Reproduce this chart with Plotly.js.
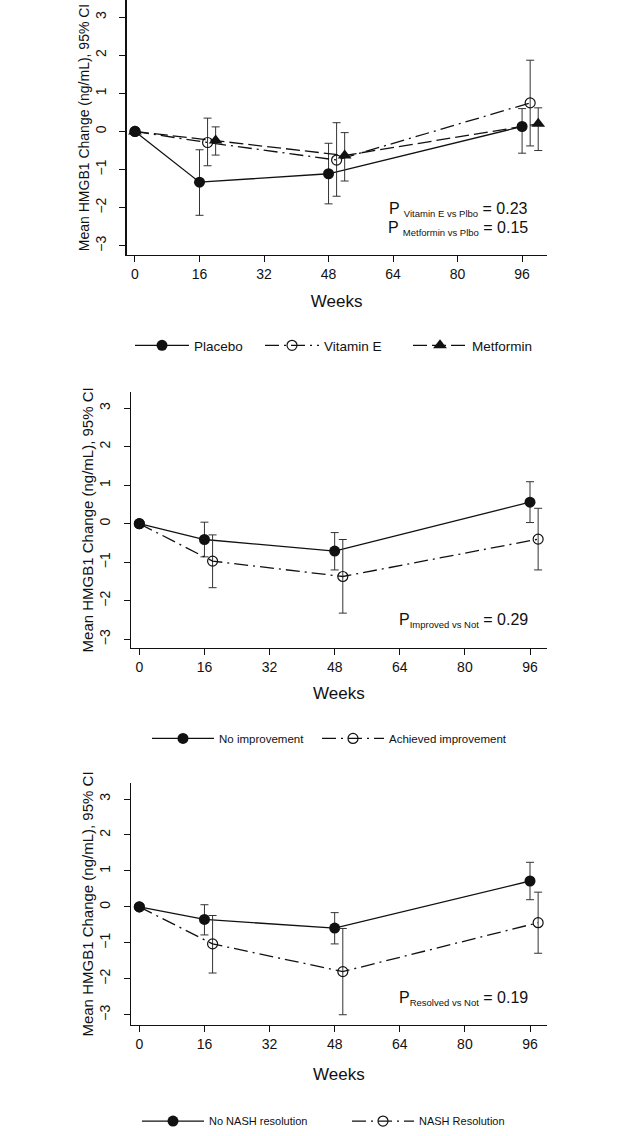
<!DOCTYPE html>
<html>
<head>
<meta charset="utf-8">
<script src="https://cdn.plot.ly/plotly-3.0.1.min.js"></script>
<style>
  html, body { margin: 0; padding: 0; background: #fff; }
  #chart { width: 625px; height: 1136px; }
</style>
</head>
<body>
<div id="chart"></div>
<script>
// ---------- data ----------
const xTickVals = [0, 16, 32, 48, 64, 80, 96];
const yTickVals = [-3, -2, -1, 0, 1, 2, 3];

// Panel 1: treatment groups
const weeksPlacebo   = [0, 16, 48, 96];
const placeboMean    = [0, -1.33, -1.11, 0.13];
const placeboLower   = [null, -2.20, -1.90, -0.57];
const placeboUpper   = [null, -0.48, -0.31, 0.60];

const weeksVitE      = [0, 18, 50, 98];
const vitEMean       = [0, -0.29, -0.75, 0.75];
const vitELower      = [null, -0.90, -1.70, -0.38];
const vitEUpper      = [null, 0.35, 0.23, 1.87];

const weeksMetformin = [0, 20, 52, 100];
const metforminMean  = [0, -0.24, -0.63, 0.20];
const metforminLower = [null, -0.62, -1.30, -0.50];
const metforminUpper = [null, 0.12, -0.03, 0.62];

// Panel 2: histologic improvement
const weeksNoImp     = [0, 16, 48, 96];
const noImpMean      = [0, -0.41, -0.71, 0.56];
const noImpLower     = [null, -0.86, -1.20, 0.03];
const noImpUpper     = [null, 0.04, -0.23, 1.09];

const weeksImp       = [0, 18, 50, 98];
const impMean        = [0, -0.97, -1.37, -0.40];
const impLower       = [null, -1.66, -2.32, -1.20];
const impUpper       = [null, -0.29, -0.41, 0.40];

// Panel 3: NASH resolution
const weeksNoRes     = [0, 16, 48, 96];
const noResMean      = [0, -0.35, -0.59, 0.72];
const noResLower     = [null, -0.78, -1.03, 0.20];
const noResUpper     = [null, 0.06, -0.16, 1.24];

const weeksRes       = [0, 18, 50, 98];
const resMean        = [0, -1.03, -1.80, -0.44];
const resLower       = [null, -1.84, -3.00, -1.29];
const resUpper       = [null, -0.24, -0.60, 0.41];

// ---------- styling ----------
const FONT = 'Liberation Sans, Arial, Helvetica, sans-serif';
const INK = '#111111';

function errY(mean, lower, upper) {
  return {
    type: 'data', symmetric: false,
    array: mean.map((m, i) => upper[i] == null ? NaN : upper[i] - m),
    arrayminus: mean.map((m, i) => lower[i] == null ? NaN : m - lower[i]),
    color: '#333333', thickness: 1, width: 4
  };
}

function series(name, xs, mean, lower, upper, ax, legend, kind, lw) {
  const styles = {
    filled:   { dash: 'solid', marker: { symbol: 'circle', size: 11, color: INK } },
    open:     { dash: '14px,5px,2px,5px', marker: { symbol: 'circle-open', size: 10, color: INK, line: { width: 1.2, color: INK } } },
    triangle: { dash: '14px,5px', marker: { symbol: 'triangle-up', size: 12, color: INK } }
  };
  const s = styles[kind];
  return {
    type: 'scatter', mode: 'lines+markers', name: name,
    x: xs, y: mean,
    xaxis: 'x' + ax, yaxis: 'y' + ax,
    legend: legend, legendwidth: lw,
    line: { color: INK, width: 1.3, dash: s.dash },
    marker: s.marker,
    error_y: errY(mean, lower, upper),
    hoverinfo: 'skip'
  };
}

const traces = [
  series('Placebo',   weeksPlacebo,   placeboMean,   placeboLower,   placeboUpper,   '',  'legend', 'filled', 61),
  series('Vitamin E', weeksVitE,      vitEMean,      vitELower,      vitEUpper,      '',  'legend', 'open', 79),
  series('Metformin', weeksMetformin, metforminMean, metforminLower, metforminUpper, '',  'legend', 'triangle', 80),
  series('No improvement',       weeksNoImp, noImpMean, noImpLower, noImpUpper, '2', 'legend2', 'filled', 93),
  series('Achieved improvement', weeksImp,   impMean,   impLower,   impUpper,   '2', 'legend2', 'open', 130),
  series('No NASH resolution', weeksNoRes, noResMean, noResLower, noResUpper, '3', 'legend3', 'filled', 133),
  series('NASH Resolution',    weeksRes,   resMean,   resLower,   resUpper,   '3', 'legend3', 'open', 110)
];

function xAxis(domain, range, anchor, standoff) {
  return {
    domain: domain, range: range, anchor: anchor,
    tickvals: xTickVals, ticks: 'outside', ticklen: 6, tickwidth: 1, tickcolor: INK,
    showline: true, linecolor: INK, linewidth: 1.2, mirror: false,
    showgrid: false, zeroline: false,
    tickfont: { family: FONT, size: 14, color: INK },
    title: { text: 'Weeks', font: { family: FONT, size: 17, color: INK }, standoff: standoff }
  };
}
function yAxis(domain, range, anchor, tsize) {
  return {
    domain: domain, range: range, anchor: anchor,
    tickvals: yTickVals, tickangle: -90, ticks: 'outside', ticklen: 6, tickwidth: 1, tickcolor: INK,
    ticklabelstandoff: 8,
    showline: true, linecolor: INK, linewidth: 1.2, mirror: false,
    showgrid: false, zeroline: false,
    tickfont: { family: FONT, size: 14, color: INK },
    title: { text: 'Mean HMGB1 Change (ng/mL), 95% CI', font: { family: FONT, size: tsize, color: INK }, standoff: 0 }
  };
}

function legendBox(x, y, size, itemw, yanchor) {
  return {
    orientation: 'h', x: x, y: y, xanchor: 'left', yanchor: yanchor || 'middle',
    xref: 'paper', yref: 'paper', itemwidth: itemw,
    font: { family: FONT, size: size, color: INK },
    bgcolor: 'rgba(0,0,0,0)', borderwidth: 0, tracegroupgap: 0
  };
}

function pText(text, y) {
  return {
    text: text, xref: 'paper', yref: 'paper', x: 0.848, y: y,
    xanchor: 'right', yanchor: 'middle', showarrow: false,
    font: { family: FONT, size: 16, color: INK }
  };
}

const layout = {
  width: 625, height: 1136,
  margin: { l: 0, r: 0, t: 0, b: 0 },
  paper_bgcolor: '#ffffff', plot_bgcolor: '#ffffff',
  showlegend: true,
  xaxis:  xAxis([0.2027, 0.8747], [-2.06, 102.1], 'y', 14),
  yaxis:  yAxis([0.7746, 1.0], [-3.24, 3.45], 'x', 14),
  xaxis2: xAxis([0.2096, 0.8747], [-2.05, 100.1], 'y2', 13),
  yaxis2: yAxis([0.4269, 0.6538], [-3.23, 3.43], 'x2', 15),
  xaxis3: xAxis([0.2096, 0.8747], [-2.05, 100.1], 'y3', 17),
  yaxis3: yAxis([0.0939, 0.3075], [-3.28, 3.44], 'x3', 15),
  legend:  legendBox(0.208, 0.6945, 13.5, 54),
  legend2: legendBox(0.2352, 0.3471, 11.5, 62),
  legend3: legendBox(0.2192, 0.0088, 11, 62, 'middle'),
  annotations: [
    pText('P <sub><span style="font-size:9.5px">Vitamin E vs Plbo</span></sub> = 0.23', 0.8151),
    pText('P <sub><span style="font-size:9.5px">Metformin vs Plbo</span></sub> = 0.15', 0.7984),
    pText('P<sub><span style="font-size:9.5px">Improved vs Not</span></sub> = 0.29', 0.4516),
    pText('P<sub><span style="font-size:9.5px">Resolved vs Not</span></sub> = 0.19', 0.1171)
  ]
};

Plotly.newPlot('chart', traces, layout, { displayModeBar: false, staticPlot: true });
</script>
</body>
</html>
